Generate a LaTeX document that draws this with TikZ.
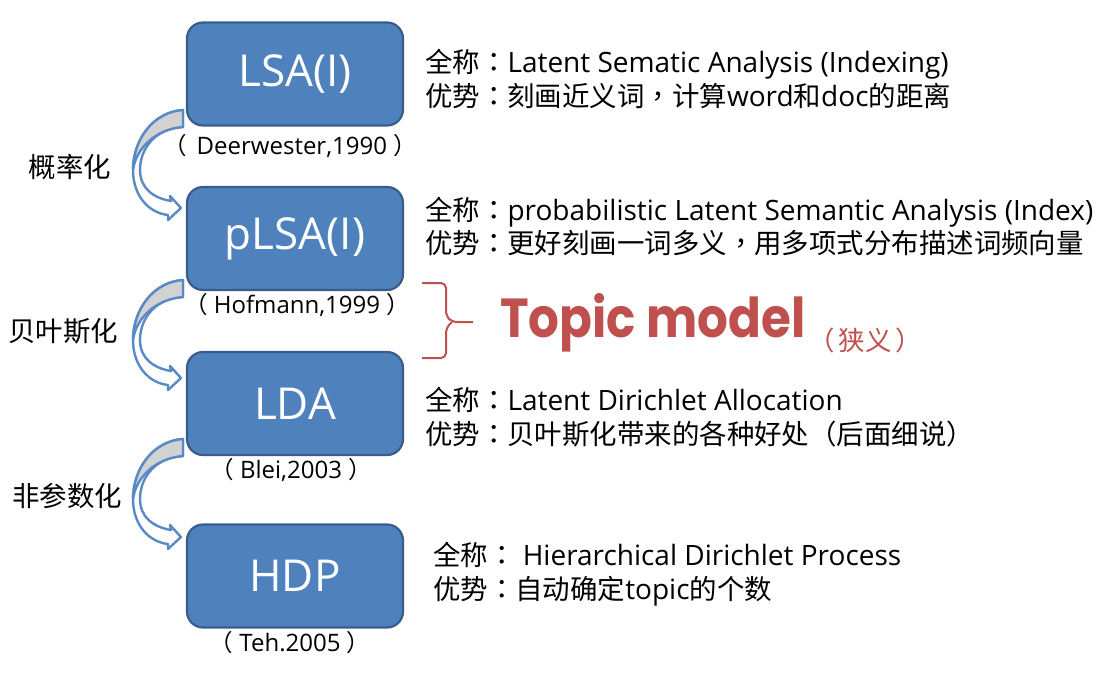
\documentclass[tikz,border=0pt]{standalone}
\usepackage{fontspec}
\setmainfont{Open Sans}
\newfontfamily\cjk{Noto Sans CJK SC}[Scale=0.98]
\newfontfamily\cjkp{Noto Sans CJK TC}[Scale=0.98]
\newfontfamily\topicfont{Poppins}
\newcommand\zh[1]{{\cjk #1}}
\newcommand\pu[1]{{\cjkp #1}}
\definecolor{boxfill}{HTML}{4F81BD}
\definecolor{boxborder}{HTML}{385D8A}
\definecolor{arrowblue}{HTML}{5A8AC6}
\definecolor{arrowgray}{HTML}{D2D2D2}
\definecolor{topicred}{HTML}{C0504D}
\tikzset{
  box/.style={draw=boxborder, fill=boxfill, line width=2.2pt, rounded corners=16pt,
    minimum width=216pt, minimum height=103pt, text=white, inner sep=0pt,
    font=\fontsize{44}{50}\selectfont},
  citetext/.style={font=\fontsize{24}{28}\selectfont, inner sep=0pt},
  desc/.style={font=\fontsize{28}{32}\selectfont, anchor=base west, inner sep=0pt},
  sidelabel/.style={font=\cjk\fontsize{28}{32}\selectfont, inner sep=0pt},
  bendarrow/.pic={
    \draw[arrowblue, line width=2.4pt, fill=white, line join=round]
      (0,0) .. controls (-30,2) and (-50,30) .. (-50,60)
      .. controls (-50,86) and (-34,103) .. (-15,105)
      -- (-15,110) -- (-2,98) -- (-13,86) -- (-12,91)
      .. controls (-30,88) and (-43,78) .. (-43,60)
      .. controls (-43,38) and (-27,18) .. (0,17) -- cycle;
    \draw[arrowblue, line width=2.4pt, fill=arrowgray, line join=round]
      (0,0) .. controls (-30,2) and (-50,30) .. (-50,60)
      .. controls (-47,38) and (-27,19) .. (0,17) -- cycle;
  }
}
\begin{document}
\begin{tikzpicture}[x=1pt,y=-1pt]
\useasboundingbox (0,0) rectangle (1115,689);
\fill[white] (0,0) rectangle (1115,689);

% boxes
\node[box] (lsa) at (295,74) {LSA(I)};
\node[box] (plsa) at (295,238.5) {pLSA(I)};
\node[box] (lda) at (295,403.5) {LDA};
\node[box] (hdp) at (295,576) {HDP};

% citations
\node[citetext] (c1) at (290,146) {\zh{（}\hspace{10pt}Deerwester,1990 \zh{）}};
\node[citetext] (c2) at (297,305) {\zh{（} Hofmann,1999 \zh{）}};
\node[citetext] (c3) at (291,470) {\zh{（} Blei,2003 \zh{）}};
\node[citetext] (c4) at (290,643) {\zh{（} Teh.2005 \zh{）}};

% curved arrows
\pic at (183,110) {bendarrow};
\pic at (183,280) {bendarrow};
\pic at (183,439) {bendarrow};

% side labels
\node[sidelabel] (s1) at (70,167) {概率化};
\node[sidelabel] (s2) at (63,331) {贝叶斯化};
\node[sidelabel] (s3) at (67,496) {非参数化};

% descriptions
\node[desc] (d1a) at (425,72) {\zh{全称}\pu{：}Latent Sematic Analysis (Indexing)};
\node[desc] (d1b) at (425,106) {\zh{优势}\pu{：}\zh{刻画近义词}\pu{，}\zh{计算}word\zh{和}doc\zh{的距离}};
\node[desc] (d2a) at (425,220) {\zh{全称}\pu{：}probabilistic Latent Semantic Analysis (Index)};
\node[desc] (d2b) at (425,253) {\zh{优势}\pu{：}\zh{更好刻画一词多义}\pu{，}\zh{用多项式分布描述词频向量}};
\node[desc] (d3a) at (425,410) {\zh{全称}\pu{：}Latent Dirichlet Allocation};
\node[desc] (d3b) at (425,444) {\zh{优势}\pu{：}\zh{贝叶斯化带来的各种好处（后面细说）}};
\node[desc] (d4a) at (433,565) {\zh{全称}\pu{：} Hierarchical Dirichlet Process};
\node[desc] (d4b) at (433,599) {\zh{优势}\pu{：}\zh{自动确定}topic\zh{的个数}};

% brace
\draw[topicred, line width=2pt, rounded corners=5pt]
  (422,283) -- (446,283) -- (446,316) -- (452,322) -- (473,322);
\draw[topicred, line width=2pt, rounded corners=5pt]
  (452,322) -- (446,328) -- (446,358) -- (422,358);

% Topic model
\node[anchor=base west, inner sep=0pt, text=topicred, font=\topicfont\bfseries]
  (tm) at (500,337) {\resizebox{305pt}{44pt}{Topic model}};
\node[anchor=west, inner sep=0pt, text=topicred, font=\cjk\fontsize{27}{30}\selectfont]
  (nar) at (808,340) {（\hspace{4pt}狭义\hspace{4pt}）};
\end{tikzpicture}
\end{document}
